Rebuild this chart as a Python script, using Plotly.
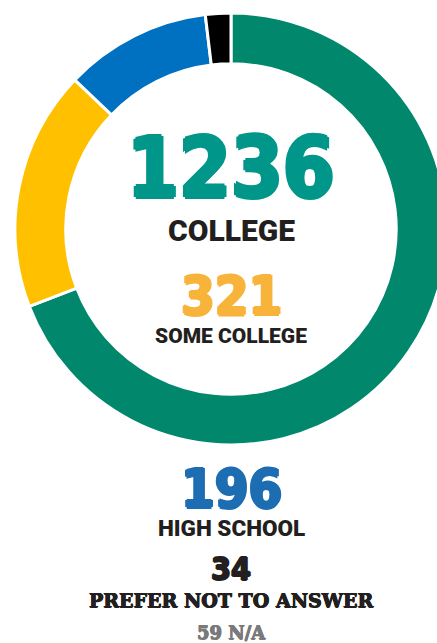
import plotly.graph_objects as go

categories = ["College", "Some college", "High school", "Prefer not to answer"]
values = [1236, 321, 196, 34]
slice_colors = ["#00876C", "#FFC000", "#0070C0", "#000000"]
na_count = 59

W, H = 460, 643
cx, cy, R = 231, 229, 216

fig = go.Figure(go.Pie(
    labels=categories,
    values=values,
    hole=0.765,
    sort=False,
    direction="clockwise",
    rotation=0,
    marker=dict(colors=slice_colors, line=dict(color="white", width=3)),
    textinfo="none",
    hoverinfo="label+value",
    showlegend=False,
    domain=dict(x=[(cx - R) / W, (cx + R) / W], y=[1 - (cy + R) / H, 1 - (cy - R) / H]),
))

num_font = "DejaVu Sans Condensed, DejaVu Sans"
lab_font = "Roboto"
slab_font = "DejaVu Serif"


def ann(text, y, size, color, family, weight="bold", fatten=0):
    shadow = "none"
    if fatten:
        d = fatten
        shadow = f"{d}px 0px 0px {color}, -{d}px 0px 0px {color}, 0px {d}px 0px {color}, 0px -{d}px 0px {color}"
    fig.add_annotation(
        x=cx / W, y=1 - y / H, xref="paper", yref="paper",
        text=text, showarrow=False, xanchor="center", yanchor="middle",
        font=dict(size=size, color=color, family=family, weight=weight, shadow=shadow),
    )


ann(f"{values[0]}", 168, 83, "#00978A", num_font, fatten=2)
ann("COLLEGE", 230, 30, "#231F20", lab_font, 900)
ann(f"{values[1]}", 295, 54, "#F8B33A", num_font, fatten=1.5)
ann("SOME COLLEGE", 336, 21, "#231F20", lab_font, 900)
ann(f"{values[2]}", 488, 54, "#1D6DB2", num_font, fatten=1.5)
ann("HIGH SCHOOL", 528, 22.5, "#231F20", lab_font, 900)
ann(f"{values[3]}", 569, 32, "#231F20", num_font, fatten=1)
ann("PREFER NOT TO ANSWER", 600, 19, "#231F20", slab_font, fatten=0.5)
ann(f"{na_count} N/A", 632, 18, "#7A7A7A", slab_font, fatten=0.5)

fig.update_layout(
    width=W, height=H,
    margin=dict(l=0, r=0, t=0, b=0),
    paper_bgcolor="white", plot_bgcolor="white",
)

fig.write_html(
    "out.html",
    config={"displayModeBar": False},
    post_script="document.body.style.margin='0';document.body.style.overflow='hidden';",
)
